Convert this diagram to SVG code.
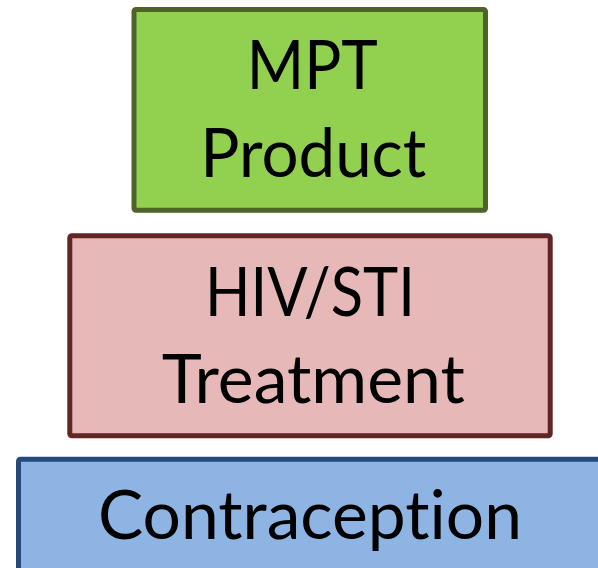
<svg xmlns="http://www.w3.org/2000/svg" width="598" height="568" viewBox="0 0 598 568">
<style>
.box{stroke-width:5;stroke-linejoin:round}
.lbl{font-family:Lato,"Open Sans","Liberation Sans",sans-serif;font-size:67px;fill:#000;text-anchor:middle;font-variant-ligatures:none;font-feature-settings:"liga" 0,"clig" 0,"dlig" 0}
</style>
<rect width="598" height="568" fill="#fff"/>
<g id="mpt">
<rect class="box" x="134" y="9.5" width="351.5" height="200.7" rx="2" fill="#92D050" stroke="#4F6228"/>
<text class="lbl" x="312.3" y="89.3" textLength="131" lengthAdjust="spacingAndGlyphs">MPT</text>
<text class="lbl" x="313.3" y="176.7" textLength="226" lengthAdjust="spacingAndGlyphs">Product</text>
</g>
<g id="hiv">
<rect class="box" x="69.8" y="235.8" width="480.4" height="200" rx="2" fill="#E6B9B8" stroke="#632523"/>
<text class="lbl" x="310" y="315.7" textLength="210" lengthAdjust="spacingAndGlyphs">HIV/STI</text>
<text class="lbl" x="313.3" y="403.3" textLength="303" lengthAdjust="spacingAndGlyphs">Treatment</text>
</g>
<g id="contraception">
<rect class="box" x="18.5" y="459.2" width="600" height="130" rx="2" fill="#8EB4E3" stroke="#254A7C"/>
<text class="lbl" x="310" y="539.3" textLength="424" lengthAdjust="spacingAndGlyphs">Contraception</text>
</g>
<g id="connectors"/>
</svg>
